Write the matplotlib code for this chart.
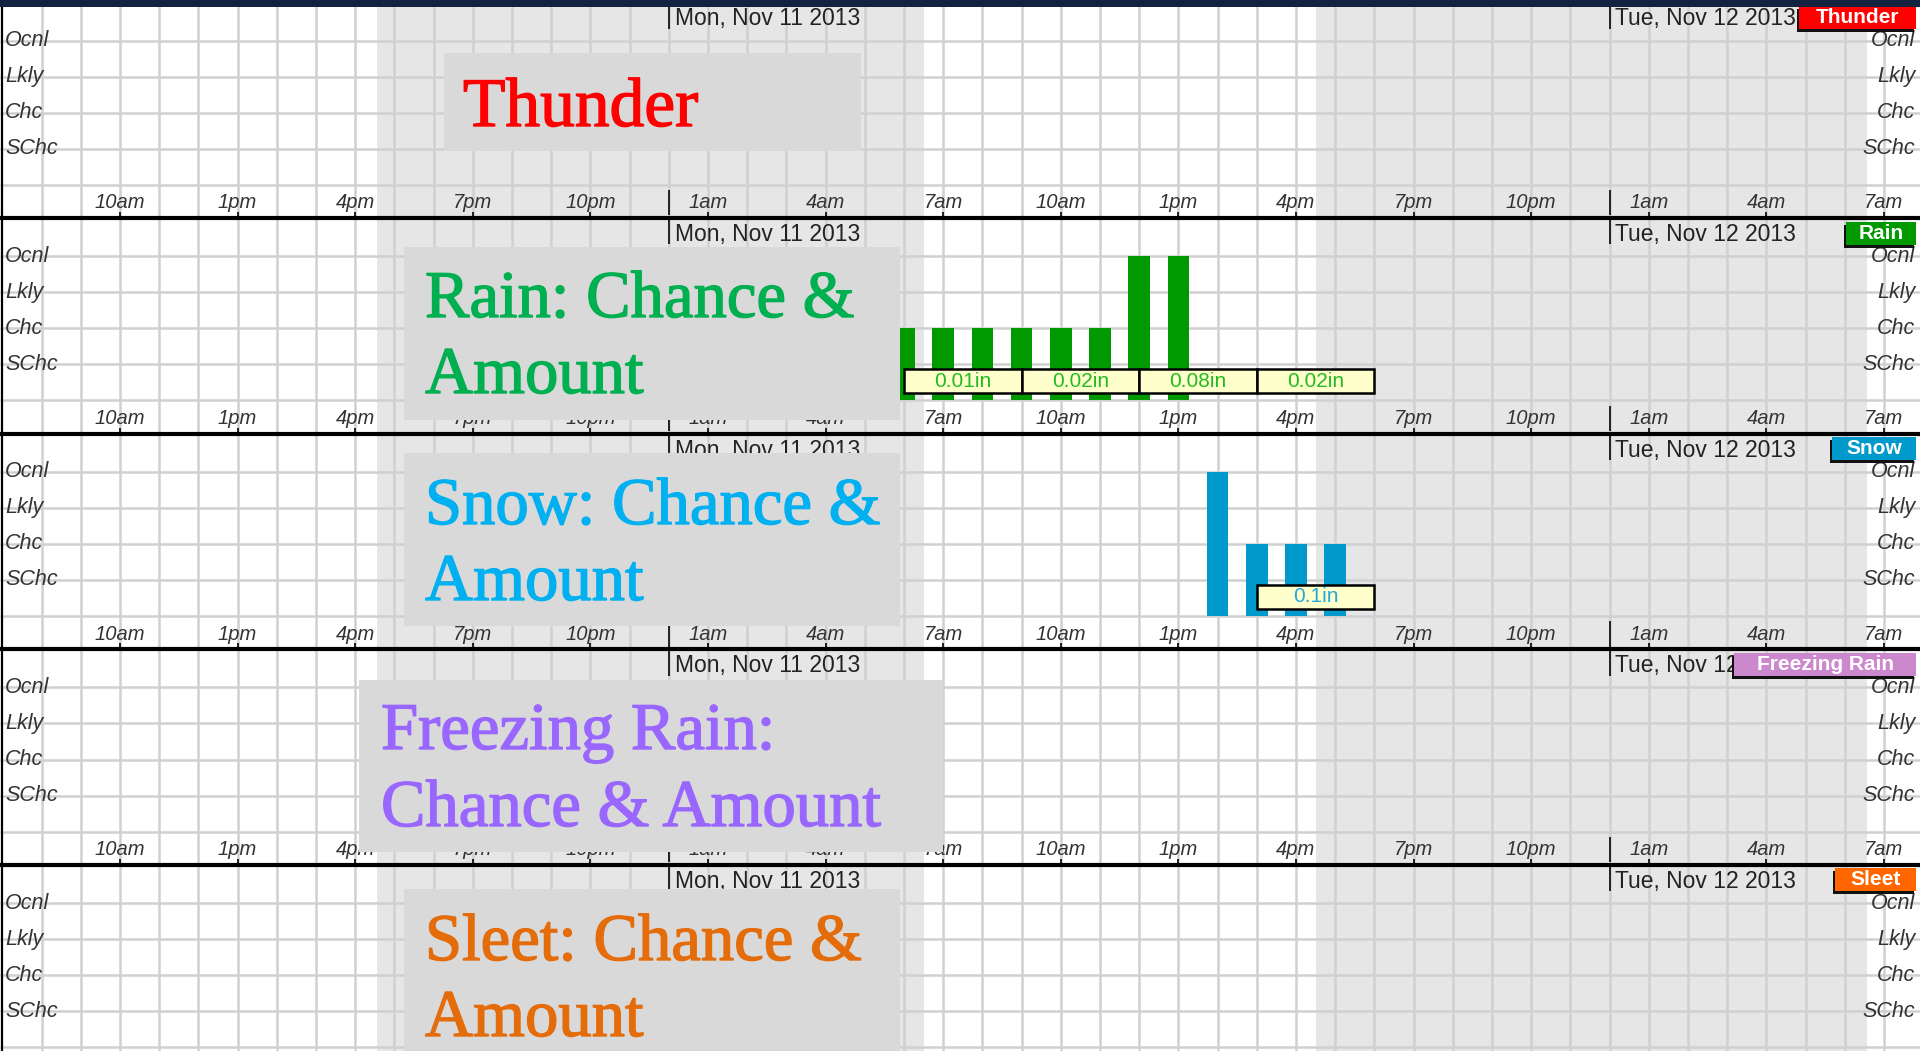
import matplotlib
matplotlib.use('Agg')
import matplotlib.pyplot as plt
import matplotlib.patheffects as pe
from matplotlib.patches import Rectangle

plt.rcParams['font.family'] = ['Liberation Sans', 'DejaVu Sans']

W, H, DPI = 1920, 1051, 100

# time axis: hours counted from midnight, Sun Nov 10 2013
tick_hours = [10, 13, 16, 19, 22, 25, 28, 31, 34, 37, 40, 43, 46, 49, 52, 55]
tick_labels = ['10am', '1pm', '4pm', '7pm', '10pm', '1am', '4am', '7am',
               '10am', '1pm', '4pm', '7pm', '10pm', '1am', '4am', '7am']
grid_hours = list(range(8, 56))
level_names = ['SChc', 'Chc', 'Lkly', 'Ocnl']
day_hours = [24, 48]
day_labels = ['Mon, Nov 11 2013', 'Tue, Nov 12 2013']
night_start = [16.55, 40.52]
night_end = [30.52, 54.57]

# rain: chance level per hour (1=SChc .. 4=Ocnl) and 3-hour amounts
rain_hours = [30, 31, 32, 33, 34, 35, 36, 37]
rain_levels = [2, 2, 2, 2, 2, 2, 4, 4]
rain_amt_start = [30, 33, 36, 39]
rain_amt_end = [33, 36, 39, 42]
rain_amt = ['0.01in', '0.02in', '0.08in', '0.02in']

# snow
snow_hours = [38, 39, 40, 41]
snow_levels = [4, 2, 2, 2]
snow_amt_start = [39]
snow_amt_end = [42]
snow_amt = ['0.1in']

panel_names = ['Thunder', 'Rain', 'Snow', 'Freezing Rain', 'Sleet']
tag_colors = ['#ff0000', '#009900', '#0099cc', '#cc88cc', '#ff6600']
tag_widths = [117, 70, 84, 182, 81]  # px
bar_colors = {'Rain': '#009900', 'Snow': '#0099cc'}
amt_colors = {'Rain': '#22bb22', 'Snow': '#22a8dd'}

title_lines = [['Thunder'],
               ['Rain: Chance &', 'Amount'],
               ['Snow: Chance &', 'Amount'],
               ['Freezing Rain:', 'Chance & Amount'],
               ['Sleet: Chance &', 'Amount']]
title_colors = ['#ff0000', '#00b050', '#00b0f0', '#9966ff', '#e46c0a']

# layout in pixels
PX_HR = 39.2
X_LEFT = 10 - 120 / PX_HR
X_RIGHT = 10 + 1800 / PX_HR
PANEL_TOP0, PANEL_H = 2.4, 215.6
Y_LO, Y_HI = -0.92, 5.06
PX_Y = PANEL_H / (Y_HI - Y_LO)

fig = plt.figure(figsize=(W / DPI, H / DPI), dpi=DPI)


def fx(px):
    return px / W


def fy(py):
    return 1 - py / H


for k, name in enumerate(panel_names):
    top = PANEL_TOP0 + PANEL_H * k
    ax = fig.add_axes([0, fy(top + PANEL_H), 1, PANEL_H / H])
    # upper panels sit above lower ones so the separator line stays whole
    ax.set_zorder(5 - k)
    ax.patch.set_facecolor('white')
    ax.set_xlim(X_LEFT, X_RIGHT)
    ax.set_ylim(Y_LO, Y_HI)
    for s in ['top', 'left', 'right']:
        ax.spines[s].set_visible(False)
    ax.spines['bottom'].set_linewidth(3.0)
    ax.spines['bottom'].set_color('black')
    ax.spines['bottom'].set_zorder(9)
    ax.set_yticks([])
    ax.set_xticks(tick_hours)
    ax.tick_params(axis='x', direction='in', length=4, width=1.2,
                   labelbottom=False)

    # night shading and hourly grid
    for a, b in zip(night_start, night_end):
        ax.axvspan(a, b, color='#e6e6e6', lw=0, zorder=0)
    ax.vlines(grid_hours, Y_LO, Y_HI, color='#d0d0d0', lw=1.8, zorder=1)
    ax.hlines(range(0, 5), X_LEFT, X_RIGHT, color='#d0d0d0', lw=1.8, zorder=1)
    ax.axvline(7, color='black', lw=1.6, zorder=2)

    # hour labels (the last panel runs off the bottom edge)
    if k < len(panel_names) - 1:
        for h, lab in zip(tick_hours, tick_labels):
            ax.text(h, -0.5, lab, ha='center', va='center', fontsize=14.5,
                    fontstyle='italic', color='#333333', zorder=5)

    # day headers with midnight markers
    ax.vlines(day_hours, 4.33, Y_HI, color='#222222', lw=1.4, zorder=4)
    ax.vlines(day_hours, -0.85, -0.15, color='#222222', lw=1.4, zorder=4)
    for h, lab in zip(day_hours, day_labels):
        ax.text(h + 0.15, 4.6, lab, ha='left', va='center', fontsize=16.5,
                color='#222222', zorder=5)

    # chance level labels on both sides
    for i, lev in enumerate(level_names):
        ax.text(X_LEFT + 0.13, i + 1, lev, ha='left', va='center',
                fontsize=15.5, fontstyle='italic', color='#333333', zorder=5)
        ax.text(X_RIGHT - 0.12, i + 1, lev, ha='right', va='center',
                fontsize=15.5, fontstyle='italic', color='#333333', zorder=5)

    # chance bars and amount boxes
    if name == 'Rain':
        hours, levels = rain_hours, rain_levels
        starts, ends, amts = rain_amt_start, rain_amt_end, rain_amt
    elif name == 'Snow':
        hours, levels = snow_hours, snow_levels
        starts, ends, amts = snow_amt_start, snow_amt_end, snow_amt
    else:
        hours = []
    if hours:
        ax.bar(hours, levels, width=0.55, bottom=0, color=bar_colors[name],
               zorder=3)
        for a, b, t in zip(starts, ends, amts):
            ax.add_patch(Rectangle((a, 0.2), b - a, 0.67, facecolor='#ffffcc',
                                   edgecolor='black', lw=1.8, zorder=4))
            ax.text((a + b) / 2, 0.53, t, ha='center', va='center',
                    fontsize=15, color=amt_colors[name], zorder=5)

    # element tag at upper right
    tw = tag_widths[k] / PX_HR
    tx0 = X_RIGHT - 0.1 - tw
    ty0 = Y_HI - 26.5 / PX_Y
    th = 23 / PX_Y
    ax.add_patch(Rectangle((tx0 - 2 / PX_HR, ty0 - 3 / PX_Y), tw, th,
                           facecolor='#111111', lw=0, zorder=6, clip_on=False))
    ax.add_patch(Rectangle((tx0, ty0), tw, th, facecolor=tag_colors[k],
                           lw=0, zorder=7, clip_on=False))
    ax.text(tx0 + tw / 2, ty0 + th / 2, name, ha='center', va='center',
            fontsize=15, fontweight='bold', color='white', zorder=8)

# gray caption boxes over each panel
title_boxes = [(444, 53, 861, 151), (404, 247, 900, 420), (404, 453, 900, 626),
               (359, 680, 943, 852), (404, 889, 900, 1060)]
title_x = [463, 425, 425, 381, 425]
title_base = [[126], [317, 393], [524, 600], [749, 826], [960, 1036]]
title_size = [50, 48, 48, 48, 48]
for k in range(5):
    x0, y0, x1, y1 = title_boxes[k]
    fig.add_artist(Rectangle((fx(x0), fy(y1)), fx(x1 - x0), (y1 - y0) / H,
                             transform=fig.transFigure, facecolor='#d9d9d9',
                             lw=0, zorder=20))
    for line, yb in zip(title_lines[k], title_base[k]):
        fig.text(fx(title_x[k]), fy(yb), line, ha='left', va='baseline',
                 fontsize=title_size[k], family='Liberation Serif',
                 color=title_colors[k], zorder=21,
                 path_effects=[pe.withStroke(linewidth=1.0,
                                             foreground=title_colors[k])])

# dark strip along the top edge
fig.add_artist(Rectangle((0, fy(7)), 1, 7 / H, transform=fig.transFigure,
                         facecolor='#13223f', lw=0, zorder=30))

fig.savefig('out.png', dpi=DPI)
